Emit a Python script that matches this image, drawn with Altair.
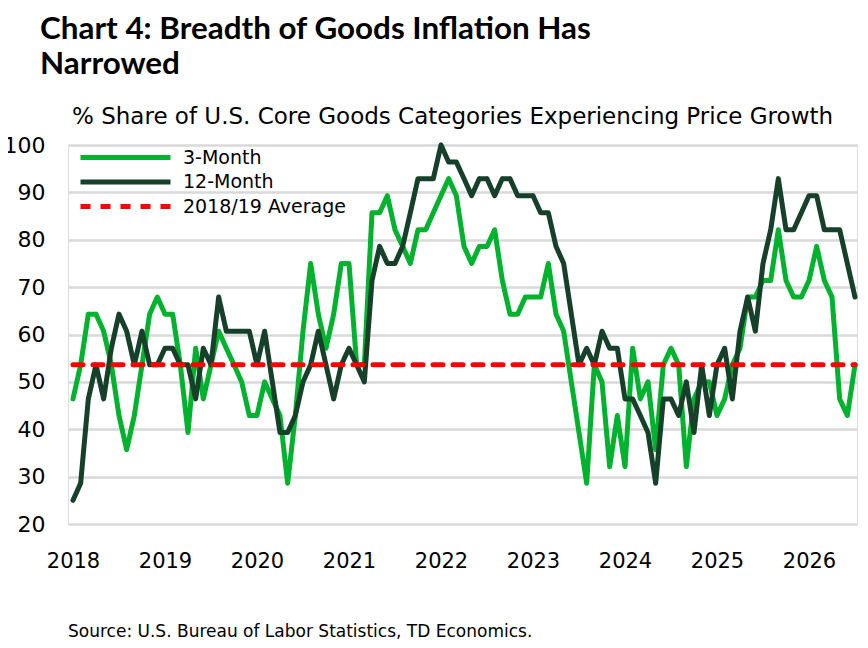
import altair as alt
import pandas as pd

# ---------------- data (monthly, Jan 2018 onward) ----------------
start_year = 2018
three_month = [
    46.4, 53.6, 64.3, 64.3, 60.7, 53.6, 42.9, 35.7, 42.9, 53.6,
    64.3, 67.9, 64.3, 64.3, 53.6, 39.3, 57.1, 46.4, 53.6, 60.7,
    57.1, 53.6, 50.0, 42.9, 42.9, 50.0, 46.4, 42.9, 28.6, 42.9,
    60.7, 75.0, 64.3, 57.1, 64.3, 75.0, 75.0, 53.6, 53.6, 85.7,
    85.7, 89.3, 82.1, 78.6, 75.0, 82.1, 82.1, 85.7, 89.3, 92.9,
    89.3, 78.6, 75.0, 78.6, 78.6, 82.1, 71.4, 64.3, 64.3, 67.9,
    67.9, 67.9, 75.0, 64.3, 60.7, 50.0, 39.3, 28.6, 53.6, 50.0,
    32.1, 42.9, 32.1, 57.1, 46.4, 50.0, 35.7, 53.6, 57.1, 53.6,
    32.1, 46.4, 50.0, 50.0, 42.9, 46.4, 53.6, 57.1, 67.9, 67.9,
    71.4, 71.4, 82.1, 71.4, 67.9, 67.9, 71.4, 78.6, 71.4, 67.9,
    46.4, 42.9, 53.6,
]
twelve_month = [
    25.0, 28.6, 46.4, 53.6, 46.4, 57.1, 64.3, 60.7, 53.6, 60.7,
    53.6, 53.6, 57.1, 57.1, 53.6, 53.6, 46.4, 57.1, 53.6, 67.9,
    60.7, 60.7, 60.7, 60.7, 53.6, 60.7, 50.0, 39.3, 39.3, 42.9,
    50.0, 53.6, 60.7, 53.6, 46.4, 53.6, 57.1, 53.6, 50.0, 71.4,
    78.6, 75.0, 75.0, 78.6, 85.7, 92.9, 92.9, 92.9, 100.0, 96.4,
    96.4, 92.9, 89.3, 92.9, 92.9, 89.3, 92.9, 92.9, 89.3, 89.3,
    89.3, 85.7, 85.7, 78.6, 75.0, 64.3, 53.6, 57.1, 53.6, 60.7,
    57.1, 57.1, 46.4, 46.4, 42.9, 39.3, 28.6, 46.4, 46.4, 42.9,
    50.0, 39.3, 53.6, 42.9, 53.6, 57.1, 46.4, 60.7, 67.9, 60.7,
    75.0, 82.1, 92.9, 82.1, 82.1, 85.7, 89.3, 89.3, 82.1, 82.1,
    82.1, 75.0, 67.9,
]
average_2018_19 = 53.6

series_names = ["3-Month", "12-Month", "2018/19 Average"]
series_colors = ["#00B22D", "#17402A", "#FF0000"]
series_dashes = [[1, 0], [1, 0], [10, 10]]
y_ticks = [20, 30, 40, 50, 60, 70, 80, 90, 100]
x_ticks = [2018, 2019, 2020, 2021, 2022, 2023, 2024, 2025, 2026]

title_lines = ["Chart 4: Breadth of Goods Inflation Has", "Narrowed"]
subtitle_text = "% Share of U.S. Core Goods Categories Experiencing Price Growth"
source_text = "Source: U.S. Bureau of Labor Statistics, TD Economics."

# ---------------- table ----------------
n = len(three_month)
rows = []
for i in range(n):
    t = start_year + i / 12.0
    rows.append({"t": t, "value": three_month[i], "series": series_names[0]})
    rows.append({"t": t, "value": twelve_month[i], "series": series_names[1]})
    rows.append({"t": t, "value": average_2018_19, "series": series_names[2]})
df = pd.DataFrame(rows)

FONT = "DejaVu Sans"
TITLE_FONT = "Lato"

x_enc = alt.X(
    "t:Q",
    scale=alt.Scale(domain=[start_year - 0.65 / 12, start_year + (n - 1 + 0.26) / 12],
                    nice=False, zero=False),
    axis=alt.Axis(values=x_ticks, format="d", title=None, grid=False, domain=False,
                  ticks=False, labelFontSize=21, labelPadding=26, labelColor="#000000",
                  labelFont=FONT, labelFlush=False),
)
y_enc = alt.Y(
    "value:Q",
    scale=alt.Scale(domain=[20, 100], nice=False, zero=False),
    axis=alt.Axis(values=y_ticks, title=None, domain=False, ticks=False,
                  gridColor="#D9D9D9", gridWidth=2.5, labelFontSize=22,
                  labelPadding=23, labelColor="#000000", labelFont=FONT),
)
legend = alt.Legend(
    orient="none", legendX=45, legendY=0, title=None,
    symbolType="M-4.5,0H4.5", symbolSize=400, symbolStrokeWidth=5,
    labelFontSize=19, labelFont=FONT, labelColor="#000000", labelLimit=400,
    labelOffset=45, rowPadding=1.5, padding=0,
)
color_enc = alt.Color("series:N", scale=alt.Scale(domain=series_names, range=series_colors),
                      legend=legend)
dash_enc = alt.StrokeDash("series:N", scale=alt.Scale(domain=series_names, range=series_dashes),
                          legend=legend)

base = alt.Chart(df).encode(x=x_enc, y=y_enc, color=color_enc, strokeDash=dash_enc)

layers = []
for s in series_names:
    layers.append(
        base.transform_filter(alt.datum.series == s)
        .mark_line(strokeWidth=5, strokeJoin="round", strokeCap="round")
    )

subtitle = alt.Chart(pd.DataFrame({"txt": [subtitle_text]})).mark_text(
    align="left", baseline="alphabetic", font=FONT, fontSize=23, color="#000000"
).encode(x=alt.value(4), y=alt.value(-21), text="txt:N")

source = alt.Chart(pd.DataFrame({"txt": [source_text]})).mark_text(
    align="left", baseline="alphabetic", font=FONT, fontSize=17, color="#000000"
).encode(x=alt.value(0), y=alt.value(492), text="txt:N")

chart = alt.layer(*layers, subtitle, source).properties(
    width=789,
    height=379,
    padding={"left": 60, "top": 137, "right": 3, "bottom": 118},
    autosize=alt.AutoSizeParams(type="none"),
    title=alt.TitleParams(
        text=title_lines, anchor="start", frame="group", font=TITLE_FONT, fontSize=31.4,
        fontWeight="bold", color="#000000", dx=-28, offset=26, lineHeight=35,
    ),
).configure_view(stroke=None).configure(background="#FFFFFF")

chart.save("out.html", embed_options={"renderer": "svg", "actions": False})
